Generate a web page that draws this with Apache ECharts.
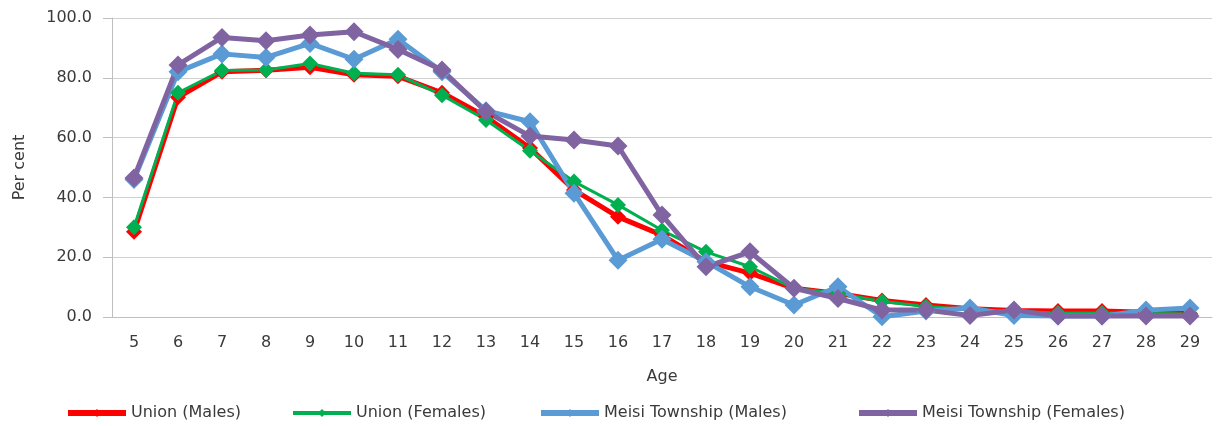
<!DOCTYPE html>
<html>
	<head>
		<meta charset="UTF-8">
		<title>Per cent by age</title>
		<script src="https://cdn.jsdelivr.net/npm/echarts@6/dist/echarts.min.js" type="text/javascript"></script>
		<style>
			html, body { margin: 0; padding: 0; background: #fff; }
			#chart { width: 1216px; height: 426px; }
		</style>
	</head>
	<body>
		<div id="chart"></div>
		<script type="text/javascript">
			// 数据
			var ages = ['5','6','7','8','9','10','11','12','13','14','15','16','17','18','19','20','21','22','23','24','25','26','27','28','29'];
			var unionMales = [28.5, 73.5, 82.0, 82.5, 83.5, 81.0, 80.5, 75.0, 67.0, 56.5, 42.5, 33.5, 27.4, 18.5, 14.7, 9.6, 7.9, 5.5, 4.0, 2.8, 2.2, 2.0, 2.0, 1.6, 1.2];
			var unionFemales = [30.0, 75.0, 82.4, 82.6, 84.8, 81.5, 81.0, 74.2, 65.9, 55.6, 45.3, 37.5, 29.0, 21.8, 16.8, 9.6, 7.9, 5.2, 3.5, 2.5, 1.8, 1.3, 1.3, 1.2, 1.0];
			var meisiMales = [46.0, 82.0, 88.0, 86.8, 91.5, 86.2, 92.9, 82.0, 69.0, 65.3, 41.4, 19.0, 26.0, 18.5, 10.1, 4.0, 10.1, 0.1, 2.0, 3.0, 0.5, 0.3, 0.3, 2.3, 3.0];
			var meisiFemales = [46.5, 84.3, 93.5, 92.4, 94.3, 95.4, 89.5, 82.6, 68.7, 60.5, 59.2, 57.2, 34.1, 16.8, 21.8, 9.6, 6.2, 2.3, 2.3, 0.5, 2.3, 0.3, 0.3, 0.3, 0.3];
			var yTicks = [0, 20, 40, 60, 80, 100];

			var names = ['Union (Males)', 'Union (Females)', 'Meisi Township (Males)', 'Meisi Township (Females)'];
			var colors = ['#ff0000', '#00b050', '#5b9bd5', '#8064a2'];
			var legendLeft = [60, 286, 533, 851];
			var font = 'DejaVu Sans';
			var textColor = '#3a3a3a';

			var myChart = echarts.init(document.getElementById('chart'));

			// 每个图例单独摆放
			var legends = [];
			for (var i = 0; i < names.length; i++) {
				legends.push({
					data: [names[i]],
					left: legendLeft[i],
					top: 400,
					itemWidth: 58,
					itemHeight: 10,
					lineStyle: { width: i == 1 ? 4 : 6 },
					textStyle: { color: textColor, fontSize: 16, fontFamily: font }
				});
			}

			function makeSeries(idx, data, width, size) {
				return {
					name: names[idx],
					type: 'line',
					data: data,
					symbol: 'diamond',
					symbolSize: size,
					color: colors[idx],
					lineStyle: { width: width, color: colors[idx] },
					itemStyle: { color: colors[idx] },
					emphasis: { disabled: true },
					animation: false
				};
			}

			var option = {
				backgroundColor: '#ffffff',
				legend: legends,
				grid: { left: 112, right: 4, top: 18, bottom: 109 },
				xAxis: {
					type: 'category',
					data: ages,
					boundaryGap: true,
					name: 'Age',
					nameLocation: 'middle',
					nameGap: 52,
					nameTextStyle: { color: textColor, fontSize: 16, fontFamily: font },
					axisLine: { lineStyle: { color: '#bfbfbf', width: 1 } },
					axisTick: { show: false },
					axisLabel: { color: textColor, fontSize: 16, fontFamily: font, margin: 18, interval: 0 }
				},
				yAxis: {
					type: 'value',
					min: yTicks[0],
					max: yTicks[yTicks.length - 1],
					interval: 20,
					name: 'Per cent',
					nameLocation: 'middle',
					nameGap: 84,
					nameTextStyle: { color: textColor, fontSize: 16, fontFamily: font },
					axisLine: { show: true, lineStyle: { color: '#bfbfbf', width: 1 } },
					axisTick: { show: true, length: 9, lineStyle: { color: '#bfbfbf' } },
					axisLabel: {
						color: textColor, fontSize: 16, fontFamily: font, margin: 20,
						formatter: function (v) { return v.toFixed(1); }
					},
					splitLine: { lineStyle: { color: '#d0d0d0', width: 1 } }
				},
				series: [
					makeSeries(0, unionMales, 5, 16),
					makeSeries(1, unionFemales, 3, 16),
					makeSeries(2, meisiMales, 5, 19),
					makeSeries(3, meisiFemales, 5, 19)
				]
			};
			myChart.setOption(option);
		</script>
	</body>
</html>
